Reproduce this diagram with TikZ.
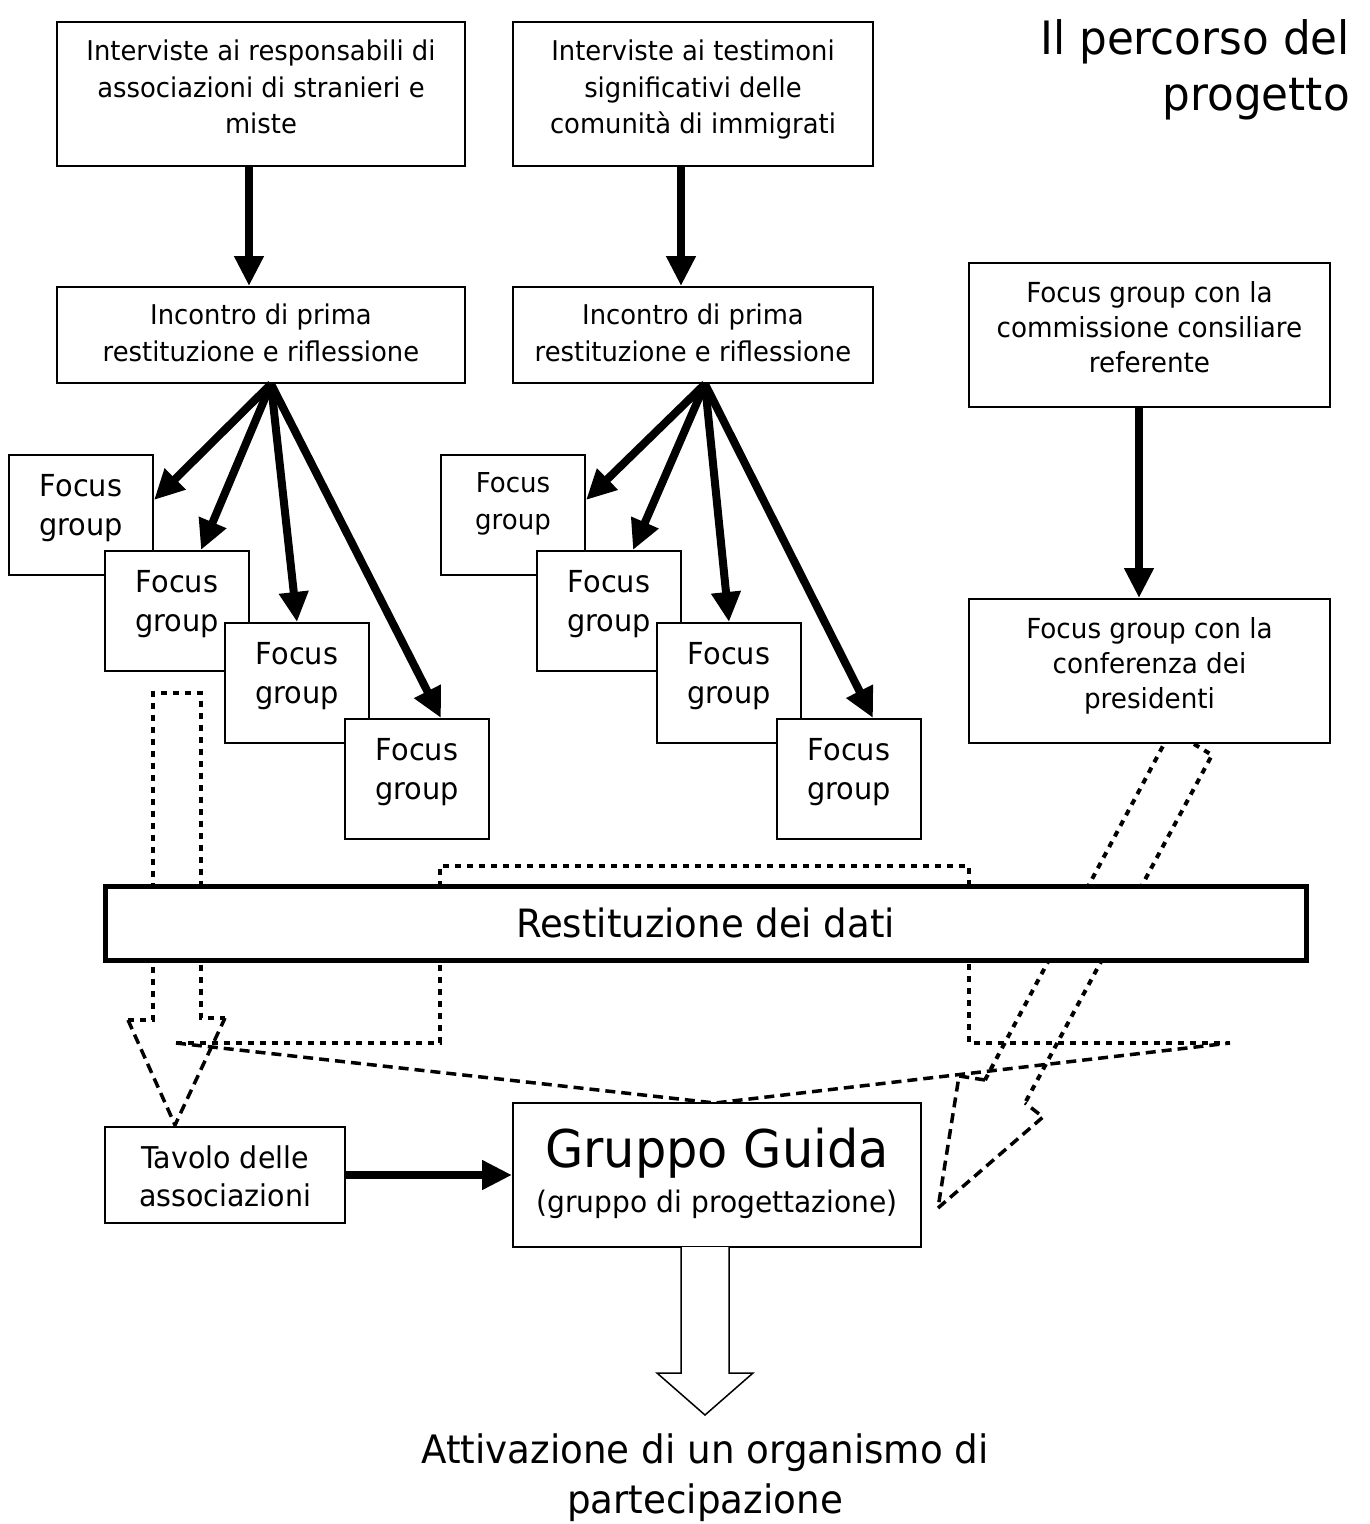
\documentclass[tikz,border=0pt]{standalone}
\usepackage{fontspec}
\setmainfont{DejaVu Sans}[FakeStretch=0.95]
\usetikzlibrary{arrows.meta}
\begin{document}
\begin{tikzpicture}[x=1pt,y=-1pt,
  box/.style={draw, line width=2pt, fill=white, inner sep=0pt},
  txt/.style={inner sep=0pt, align=center, anchor=north, font=\fontsize{27.2}{36.5}\selectfont},
  ftxt/.style={txt, font=\fontsize{30.3}{39.5}\selectfont},
  arr/.style={line width=8pt, -{Triangle[length=30pt,width=28pt]}},
  dotl/.style={line width=4pt, dash pattern=on 6pt off 6pt},
  dashl/.style={line width=3.5pt, dash pattern=on 10pt off 6pt},
  hollow/.style={draw, line width=1.5pt, fill=white}
]
\useasboundingbox (0,0) rectangle (1369,1524);

% dotted block arrows (behind everything)
\draw[dotl] (128,1020) -- (153,1020) -- (153,693) -- (201,693) -- (201,1018) -- (225,1018);
\draw[dashl] (128,1020) -- (175,1125) -- (225,1018);
\draw[dotl] (176,1043) -- (440,1043) -- (440,866) -- (969,866) -- (969,1043) -- (1230,1043);
\draw[dashl] (176,1043) -- (715,1103) -- (1230,1043);
\draw[dotl] (985,1080) -- (1164,744);
\draw[dotl] (1194,744) -- (1212,755) -- (1025,1103);
\draw[dashl] (985,1080) -- (959,1076) -- (938,1208) -- (1043,1117) -- (1025,1103);

% title
\node[inner sep=0pt, anchor=north east, align=right, font=\fontsize{46}{56}\selectfont] (title) at (1350,19) {Il percorso del\\progetto};

% top boxes
\node[box, minimum width=408pt, minimum height=144pt] (int1) at (261,94) {};
\node[txt] (int1t) at ([yshift=-19pt]int1.north) {Interviste ai responsabili di\\associazioni di stranieri e\\miste};
\node[box, minimum width=360pt, minimum height=144pt] (int2) at (693,94) {};
\node[txt] (int2t) at ([yshift=-19pt]int2.north) {Interviste ai testimoni\\significativi delle\\comunità di immigrati};

\node[box, minimum width=408pt, minimum height=96pt] (inc1) at (261,335) {};
\node[txt] (inc1t) at ([yshift=-18pt]inc1.north) {Incontro di prima\\restituzione e riflessione};
\node[box, minimum width=360pt, minimum height=96pt] (inc2) at (693,335) {};
\node[txt] (inc2t) at ([yshift=-18pt]inc2.north) {Incontro di prima\\restituzione e riflessione};

\node[box, minimum width=361pt, minimum height=144pt] (com) at (1149.5,335) {};
\node[txt, font=\fontsize{27.6}{35}\selectfont] (comt) at ([yshift=-19pt]com.north) {Focus group con la\\commissione consiliare\\referente};
\node[box, minimum width=361pt, minimum height=144pt] (conf) at (1149.5,671) {};
\node[txt, font=\fontsize{27.6}{35}\selectfont] (conft) at ([yshift=-19pt]conf.north) {Focus group con la\\conferenza dei\\presidenti};

% focus groups left
\node[box, minimum width=144pt, minimum height=120pt] (f1) at (81,515) {};
\node[ftxt] (f1t) at ([yshift=-20pt]f1.north) {Focus\\group};
\node[box, minimum width=144pt, minimum height=120pt] (f2) at (177,611) {};
\node[ftxt] (f2t) at ([yshift=-20pt]f2.north) {Focus\\group};
\node[box, minimum width=144pt, minimum height=120pt] (f3) at (297,683) {};
\node[ftxt] (f3t) at ([yshift=-20pt]f3.north) {Focus\\group};
\node[box, minimum width=144pt, minimum height=120pt] (f4) at (417,779) {};
\node[ftxt] (f4t) at ([yshift=-20pt]f4.north) {Focus\\group};

% focus groups middle
\node[box, minimum width=144pt, minimum height=120pt] (g1) at (513,515) {};
\node[txt, font=\fontsize{27.4}{37}\selectfont] (g1t) at ([yshift=-18pt]g1.north) {Focus\\group};
\node[box, minimum width=144pt, minimum height=120pt] (g2) at (609,611) {};
\node[ftxt] (g2t) at ([yshift=-20pt]g2.north) {Focus\\group};
\node[box, minimum width=144pt, minimum height=120pt] (g3) at (729,683) {};
\node[ftxt] (g3t) at ([yshift=-20pt]g3.north) {Focus\\group};
\node[box, minimum width=144pt, minimum height=120pt] (g4) at (849,779) {};
\node[ftxt] (g4t) at ([yshift=-20pt]g4.north) {Focus\\group};

% bar
\node[draw, line width=5pt, fill=white, minimum width=1201pt, minimum height=74pt, inner sep=0pt, font=\fontsize{39}{44}\selectfont] (bar) at (705.5,923) {Restituzione dei dati};

% bottom boxes
\node[box, minimum width=240pt, minimum height=96pt] (tav) at (225,1175) {};
\node[txt, font=\fontsize{30}{38}\selectfont] (tavt) at ([yshift=-19pt]tav.north) {Tavolo delle\\associazioni};
\node[box, minimum width=408pt, minimum height=144pt] (gg) at (717,1175) {};
\node[inner sep=0pt, anchor=north, font=\fontsize{52}{60}\selectfont] (ggt) at ([yshift=-26pt]gg.north) {Gruppo Guida};
\node[inner sep=0pt, anchor=north, font=\fontsize{29.6}{36}\selectfont] (ggs) at ([yshift=-88pt]gg.north) {(gruppo di progettazione)};

% hollow down arrow
\draw[hollow] (681,1247) -- (681,1373) -- (657,1373) -- (705,1415) -- (753,1373) -- (729,1373) -- (729,1247);
\node[inner sep=0pt, anchor=north, align=center, font=\fontsize{39.2}{50}\selectfont] (att) at (705,1433) {Attivazione di un organismo di\\partecipazione};

% black arrows
\draw[arr] ([xshift=-12pt]int1.south) -- ([xshift=-12pt]inc1.north);
\draw[arr] ([xshift=-12pt]int2.south) -- ([xshift=-12pt]inc2.north);
\draw[arr] ([xshift=-10.5pt]com.south) -- ([xshift=-10.5pt]conf.north);

\draw[arr] ([xshift=10pt]inc1.south) -- ([yshift=15pt]f1.east);
\draw[arr] ([xshift=10pt]inc1.south) -- ([xshift=24pt]f2.north);
\draw[arr] ([xshift=10pt]inc1.south) -- (f3.north);
\draw[arr] ([xshift=10pt]inc1.south) -- ([xshift=24pt]f4.north);

\draw[arr] ([xshift=12pt]inc2.south) -- ([yshift=15pt]g1.east);
\draw[arr] ([xshift=12pt]inc2.south) -- ([xshift=24pt]g2.north);
\draw[arr] ([xshift=12pt]inc2.south) -- (g3.north);
\draw[arr] ([xshift=12pt]inc2.south) -- ([xshift=24pt]g4.north);

\draw[arr] (tav.east) -- (gg.west);
\end{tikzpicture}
\end{document}
